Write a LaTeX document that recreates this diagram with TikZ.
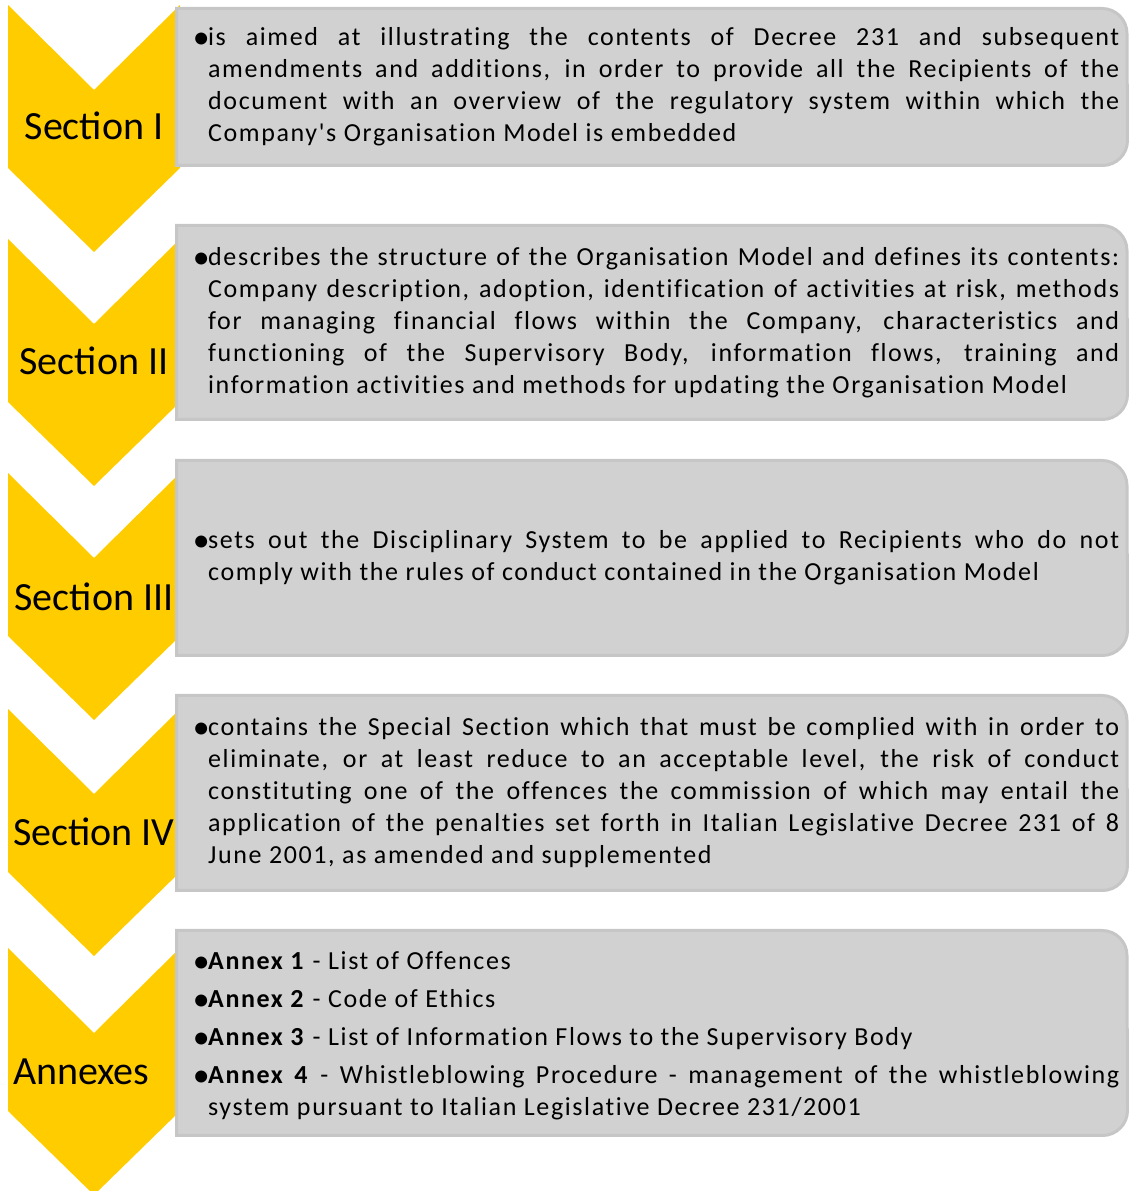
\documentclass[tikz,border=0pt]{standalone}
\usepackage{fontspec}
\usepackage{graphicx}
\setmainfont{Carlito}
\newfontfamily\bodyfont{Carlito}[LetterSpace=6.2,Ligatures=CommonOff]
\definecolor{chevyellow}{HTML}{FFCC00}
\definecolor{panelfill}{HTML}{D1D1D1}
\definecolor{panelline}{HTML}{C6C6C6}

% one chevron, given the y of its top edge
\newcommand\chevronat[1]{%
  \fill[chevron] (8,#1) -- (94,#1-85) -- (180,#1) -- (180,#1-163)
    -- (94,#1-247) -- (8,#1-163) -- cycle;}
% one text panel, square on the left, rounded on the right
\newcommand\panelat[2]{%
  \draw[panel] (176.5,#1) -- (1102,#1) arc[start angle=90,end angle=0,radius=25pt]
    -- (1127.5,#2+25) arc[start angle=0,end angle=-90,radius=25pt] -- (176.5,#2) -- cycle;}
% a justified line of a fixed width
\newcommand\jline[1]{\makebox[911pt][s]{#1}}
% hanging bullet, centred 7pt left of the text
\newcommand\bul{\llap{\makebox[0pt][c]{\rmfamily\raisebox{-2.9pt}{\scalebox{1.3}{•}}}\kern 7pt}}

\begin{document}
\begin{tikzpicture}[x=1pt,y=1pt,
  chevron/.style={fill=chevyellow},
  panel/.style={fill=panelfill,draw=panelline,line width=3pt},
  seclabel/.style={font=\fontsize{40}{48}\selectfont,inner sep=0pt,anchor=base},
  body/.style={font=\bodyfont\fontsize{26}{32}\selectfont,inner sep=0pt,anchor=west,align=left}]
\useasboundingbox (0,0) rectangle (1129,1191);

% chevrons
\chevronat{1186}
\chevronat{952}
\chevronat{718}
\chevronat{482}
\chevronat{243}

% panels
\panelat{1182.5}{1025.5}
\panelat{965.5}{771.5}
\panelat{730.5}{535.5}
\panelat{495.5}{300.5}
\panelat{260.5}{55.5}

% section labels
\node[seclabel] (s1) at (94,1051) {Section I};
\node[seclabel] (s2) at (94,816) {Section II};
\node[seclabel] (s3) at (94,580) {Section III};
\node[seclabel] (s4) at (94,345) {Section IV};
\node[seclabel,anchor=base west] (s5) at (13,106) {Annexes};

% panel texts
\node[body] (t1) at (208,1104) {%
  \jline{\bul is aimed at illustrating the contents of Decree 231 and subsequent}\\
  \jline{amendments and additions, in order to provide all the Recipients of the}\\
  \jline{document with an overview of the regulatory system within which the}\\
  Company's Organisation Model is embedded};

\node[body] (t2) at (208,868.5) {%
  \jline{\bul describes the structure of the Organisation Model and defines its contents:}\\
  \jline{Company description, adoption, identification of activities at risk, methods}\\
  \jline{for managing financial flows within the Company, characteristics and}\\
  \jline{functioning of the Supervisory Body, information flows, training and}\\
  information activities and methods for updating the Organisation Model};

\node[body] (t3) at (208,633) {%
  \jline{\bul sets out the Disciplinary System to be applied to Recipients who do not}\\
  comply with the rules of conduct contained in the Organisation Model};

\node[body] (t4) at (208,398) {%
  \jline{\bul contains the Special Section which that must be complied with in order to}\\
  \jline{eliminate, or at least reduce to an acceptable level, the risk of conduct}\\
  \jline{constituting one of the offences the commission of which may entail the}\\
  \jline{application of the penalties set forth in Italian Legislative Decree 231 of 8}\\
  June 2001, as amended and supplemented};

\node[body] (t5) at (208,155.5) {%
  \bul\textbf{Annex 1} - List of Offences\\[6pt]
  \bul\textbf{Annex 2} - Code of Ethics\\[6pt]
  \bul\textbf{Annex 3} - List of Information Flows to the Supervisory Body\\[6pt]
  \jline{\bul\textbf{Annex 4} - Whistleblowing Procedure - management of the whistleblowing}\\
  system pursuant to Italian Legislative Decree 231/2001};
\end{tikzpicture}
\end{document}
